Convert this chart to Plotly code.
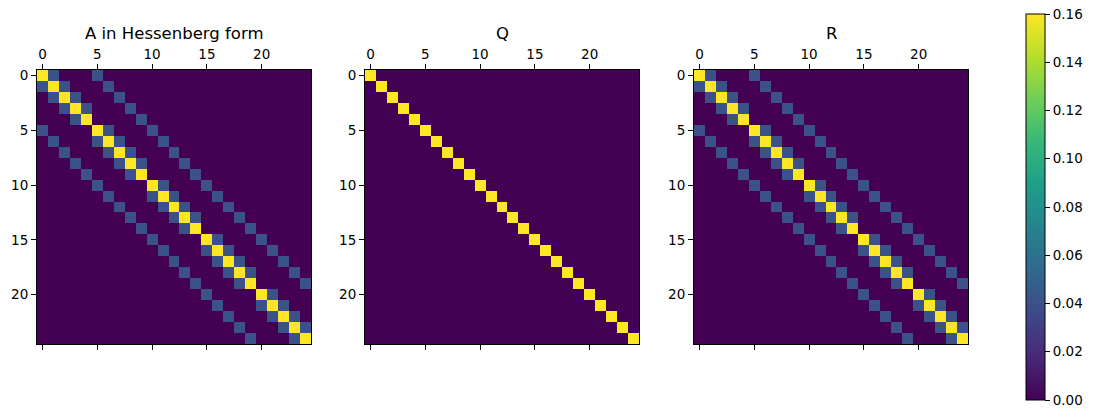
import numpy as np
import plotly.graph_objects as go

# ---- data (25 x 25 matrices, stored as diagonals) ----
N = 25
a_main_diag = [0.16, 0.16, 0.16, 0.16, 0.16, 0.16, 0.16, 0.16, 0.16, 0.16,
               0.16, 0.16, 0.16, 0.16, 0.16, 0.16, 0.16, 0.16, 0.16, 0.16,
               0.16, 0.16, 0.16, 0.16, 0.16]
a_near_diag = [0.04, 0.04, 0.04, 0.04, 0.00,
               0.04, 0.04, 0.04, 0.04, 0.00,
               0.04, 0.04, 0.04, 0.04, 0.00,
               0.04, 0.04, 0.04, 0.04, 0.00,
               0.04, 0.04, 0.04, 0.04]
a_far_diag = [0.04, 0.04, 0.04, 0.04, 0.04, 0.04, 0.04, 0.04, 0.04, 0.04,
              0.04, 0.04, 0.04, 0.04, 0.04, 0.04, 0.04, 0.04, 0.04, 0.04]
q_main_diag = [0.16, 0.16, 0.16, 0.16, 0.16, 0.16, 0.16, 0.16, 0.16, 0.16,
               0.16, 0.16, 0.16, 0.16, 0.16, 0.16, 0.16, 0.16, 0.16, 0.16,
               0.16, 0.16, 0.16, 0.16, 0.16]
r_main_diag = [0.16, 0.16, 0.16, 0.16, 0.16, 0.16, 0.16, 0.16, 0.16, 0.16,
               0.16, 0.16, 0.16, 0.16, 0.16, 0.16, 0.16, 0.16, 0.16, 0.16,
               0.16, 0.16, 0.16, 0.16, 0.16]
r_near_diag = [0.04, 0.04, 0.04, 0.04, 0.00,
               0.04, 0.04, 0.04, 0.04, 0.00,
               0.04, 0.04, 0.04, 0.04, 0.00,
               0.04, 0.04, 0.04, 0.04, 0.00,
               0.04, 0.04, 0.04, 0.04]
r_far_diag = [0.04, 0.04, 0.04, 0.04, 0.04, 0.04, 0.04, 0.04, 0.04, 0.04,
              0.04, 0.04, 0.04, 0.04, 0.04, 0.04, 0.04, 0.04, 0.04, 0.04]
titles = ["A in Hessenberg form", "Q", "R"]
tick_vals = [0, 5, 10, 15, 20]
cbar_ticks = [0.00, 0.02, 0.04, 0.06, 0.08, 0.10, 0.12, 0.14, 0.16]

A = (np.diag(a_main_diag) + np.diag(a_near_diag, 1) + np.diag(a_near_diag, -1)
     + np.diag(a_far_diag, 5) + np.diag(a_far_diag, -5))
Q = np.diag(q_main_diag)
R = (np.diag(r_main_diag) + np.diag(r_near_diag, 1) + np.diag(r_near_diag, -1)
     + np.diag(r_far_diag, 5) + np.diag(r_far_diag, -5))
mats = [A, Q, R]

W, H = 1095, 418
panels_px = [(37, 311), (365, 639), (694, 968)]
top_px, bot_px = 70, 344
FONT = "DejaVu Sans"
TICK_SIZE = 13.5

fig = go.Figure()
idx = list(range(N))
for i, M in enumerate(mats):
    suffix = "" if i == 0 else str(i + 1)
    fig.add_trace(go.Heatmap(
        z=M, x=idx, y=idx, colorscale="Viridis", zmin=0, zmax=0.16,
        xaxis="x" + suffix, yaxis="y" + suffix,
        showscale=(i == 0),
        colorbar=dict(
            x=1026 / W, xanchor="left", xpad=0,
            y=1 - 14 / H, yanchor="top", ypad=0,
            len=386, lenmode="pixels", thickness=19, thicknessmode="pixels",
            outlinecolor="black", outlinewidth=1,
            tickvals=cbar_ticks, tickformat=".2f",
            ticks="outside", ticklen=5, tickcolor="black",
            tickfont=dict(family=FONT, size=TICK_SIZE, color="black"),
        ),
    ))
    x0, x1 = panels_px[i]
    axx = dict(
        domain=[x0 / W, x1 / W], anchor="y" + suffix, side="top",
        range=[-0.5, N - 0.5], tickvals=tick_vals, ticks="outside", ticklen=5,
        tickcolor="black", showline=True, linecolor="black", linewidth=1.1,
        mirror="ticks", showgrid=False, zeroline=False, automargin=False,
        tickfont=dict(family=FONT, size=TICK_SIZE, color="black"),
    )
    axy = dict(
        domain=[1 - bot_px / H, 1 - top_px / H], anchor="x" + suffix,
        range=[N - 0.5, -0.5], tickvals=tick_vals, ticks="outside", ticklen=5,
        tickcolor="black", showline=True, linecolor="black", linewidth=1.1,
        mirror=True, showgrid=False, zeroline=False, automargin=False,
        tickfont=dict(family=FONT, size=TICK_SIZE, color="black"),
    )
    fig.layout["xaxis" + suffix] = axx
    fig.layout["yaxis" + suffix] = axy
    fig.add_annotation(
        text=titles[i], xref="paper", yref="paper",
        x=(x0 + x1) / 2 / W, y=1 - 33 / H, xanchor="center", yanchor="middle",
        showarrow=False, font=dict(family=FONT, size=16.5, color="black"),
    )

fig.update_layout(
    width=W, height=H, margin=dict(l=0, r=0, t=0, b=0, autoexpand=False),
    paper_bgcolor="white", plot_bgcolor="white", showlegend=False,
)
fig.write_html("out.html",
               config={"displayModeBar": False},
               post_script="document.body.style.margin='0';"
                           "document.body.style.overflow='hidden';")
